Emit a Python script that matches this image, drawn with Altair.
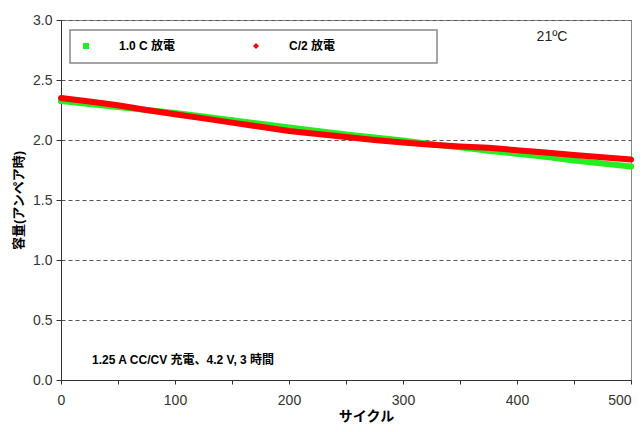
import altair as alt
import pandas as pd

cycles = [0, 25, 50, 75, 100, 125, 150, 175, 200, 225, 250, 275, 300,
          325, 350, 375, 400, 425, 450, 475, 500]
green = [2.325, 2.30, 2.275, 2.25, 2.225, 2.195, 2.165, 2.135, 2.105, 2.075, 2.045,
         2.02, 1.995, 1.965, 1.94, 1.91, 1.885, 1.86, 1.83, 1.805, 1.78]
red = [2.35, 2.32, 2.29, 2.25, 2.215, 2.18, 2.145, 2.11, 2.075, 2.05, 2.025,
       2.0, 1.98, 1.96, 1.945, 1.935, 1.915, 1.895, 1.875, 1.857, 1.838]
series_names = ["1.0 C 放電", "C/2 放電"]
series_colors = ["#22ee22", "#ff0000"]
series_shapes = ["square", "diamond"]
x_ticks = [0, 50, 100, 150, 200, 250, 300, 350, 400, 450, 500]
y_ticks = [0.0, 0.5, 1.0, 1.5, 2.0, 2.5, 3.0]
temp_label = "21ºC"
note_label = "1.25 A CC/CV 充電、4.2 V, 3 時間"
x_title = "サイクル"
y_title = "容量(アンペア時)"

df = pd.DataFrame({
    "cycle": cycles + cycles,
    "cap": green + red,
    "series": [series_names[0]] * len(cycles) + [series_names[1]] * len(cycles),
})

LAT = "Liberation Sans"
CJK = "Liberation Sans, Noto Sans CJK JP"

x_enc = alt.X("cycle:Q", scale=alt.Scale(domain=[0, 500], nice=False),
              axis=alt.Axis(values=x_ticks,
                            labelExpr="datum.value % 100 == 0 ? datum.label : ''",
                            labelFlush=False,
                            labelAlign={"expr": "datum.value == 500 ? 'right' : 'center'"},
                            title=x_title, titleX=305, titleY=36,
                            titleBaseline="middle", titleFont=CJK,
                            titleFontSize=14, titleFontWeight="bold",
                            titleColor="#000",
                            labelFont=LAT, labelFontSize=14, labelColor="#333",
                            labelPadding=9, tickSize=4, tickColor="#333",
                            domainColor="#333", grid=False))
y_enc = alt.Y("cap:Q", scale=alt.Scale(domain=[0, 3], nice=False),
              axis=alt.Axis(values=y_ticks, format=".1f", labelFlush=False,
                            title=y_title, titleX=-43, titleBaseline="middle",
                            titleFont=CJK, titleFontSize=13,
                            titleFontWeight="bold", titleColor="#000",
                            labelFont=LAT, labelFontSize=14, labelColor="#333",
                            labelPadding=4, tickSize=5, tickColor="#333",
                            domainColor="#333",
                            grid=True, gridColor="#555", gridDash=[4, 3],
                            gridWidth=1))

leg = alt.Legend(orient="none", legendX=19, legendY=20, direction="horizontal",
                 title=None, symbolSize=36, labelOffset=27, columnPadding=74,
                 labelFont=CJK, labelFontSize=12, labelFontWeight="bold",
                 labelColor="#000", symbolOpacity=1, symbolStrokeWidth=0,
                 padding=0)

points = alt.Chart(df).mark_point(filled=True, opacity=1, size=25).encode(
    x=x_enc, y=y_enc,
    color=alt.Color("series:N",
                    scale=alt.Scale(domain=series_names, range=series_colors),
                    legend=leg),
    shape=alt.Shape("series:N",
                    scale=alt.Scale(domain=series_names, range=series_shapes),
                    legend=leg),
)

lines = alt.Chart(df).mark_line(strokeWidth=6, strokeCap="round").encode(
    x="cycle:Q", y="cap:Q",
    stroke=alt.Stroke("series:N",
                      scale=alt.Scale(domain=series_names, range=series_colors),
                      legend=None),
)

box = alt.Chart(pd.DataFrame({"k": [0]})).mark_rect(
    fill="white", stroke="#888", strokeWidth=1.5
).encode(x=alt.value(9), x2=alt.value(376), y=alt.value(10), y2=alt.value(43))

temp = alt.Chart(pd.DataFrame({"t": [temp_label]})).mark_text(
    font=LAT, fontSize=14, color="#222", align="center", baseline="middle"
).encode(x=alt.value(491), y=alt.value(17), text="t:N")

note = alt.Chart(pd.DataFrame({"t": [note_label]})).mark_text(
    font=CJK, fontSize=12, fontWeight="bold", color="#000", align="left",
    baseline="middle"
).encode(x=alt.value(31), y=alt.value(340), text="t:N")

chart = alt.layer(points, box, lines, temp, note).properties(
    width=570, height=360,
    autosize=alt.AutoSizeParams(type="none"),
    padding={"left": 53, "top": 12, "right": 3, "bottom": 44},
).configure_view(stroke="#888", strokeWidth=1)

chart.save("out.html", embed_options={"renderer": "svg", "actions": False})
